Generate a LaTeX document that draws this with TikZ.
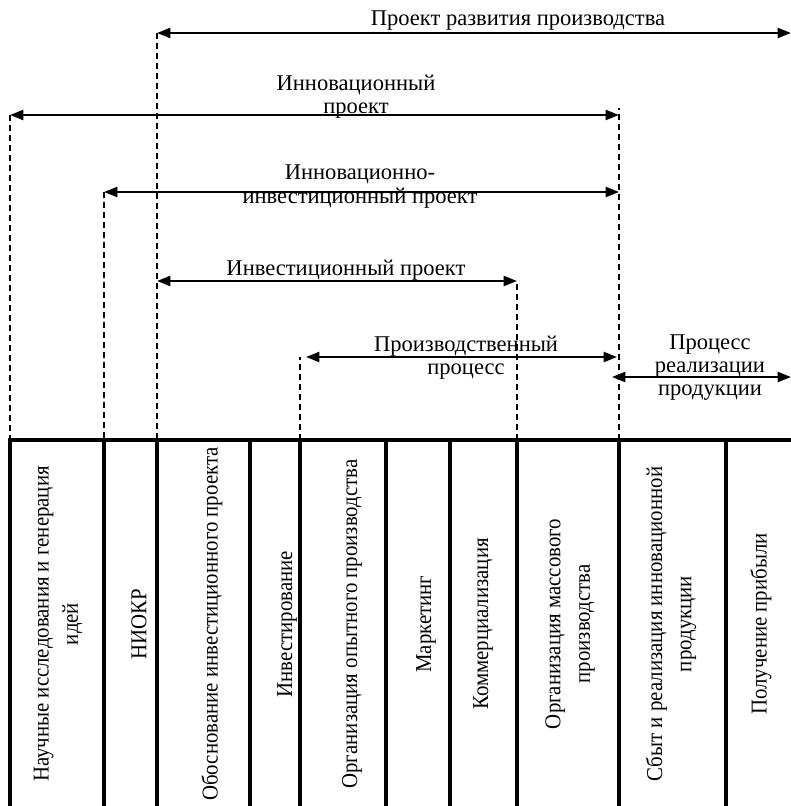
\documentclass[tikz,border=0pt]{standalone}
\usepackage{fontspec}
\setmainfont{Liberation Serif}
\newfontfamily\stagefont[FakeStretch=0.92]{Liberation Serif}
\usetikzlibrary{arrows.meta, positioning}

\begin{document}
\begin{tikzpicture}[
    x=0.75pt, y=-0.75pt,
    span/.style={
        {Triangle[length=10pt,width=7.5pt]}-{Triangle[length=10pt,width=7.5pt]},
        line width=1.5pt
    },
    guide/.style={line width=1.1pt, dash pattern=on 4.5pt off 3pt},
    rule/.style={line width=3pt, line cap=rect},
    caption/.style={font=\fontsize{16.9}{17.25}\selectfont, align=center, inner sep=0pt},
    stage/.style={font=\stagefont\fontsize{17}{22}\selectfont, align=center, rotate=90, inner sep=0pt}
]
\useasboundingbox (0,0) rectangle (791,806);

% Column boundaries of the stage table
\foreach \x [count=\i] in {10,104,157,250,300,386,450,517,619,726,791}
    \coordinate (b\i) at (\x,440);

% Table rules
\draw[rule] (b1) -- (b11);
\foreach \i in {1,...,10}
    \draw[rule] (b\i) -- ++(0,366);

% Stages
\node[stage] (st1) at (58,624) {Научные исследования и генерация\\идей};
\node[stage] (st2) at (139,624) {НИОКР};
\node[stage] (st3) at (212,624) {Обоснование инвестиционного проекта};
\node[stage] (st4) at (287,624) {Инвестирование};
\node[stage] (st5) at (352,624) {Организация опытного производства};
\node[stage] (st6) at (426,624) {Маркетинг};
\node[stage] (st7) at (483,624) {Коммерциализация};
\node[stage] (st8) at (570,624) {Организация массового\\производства};
\node[stage] (st9) at (671,624) {Сбыт и реализация инновационной\\продукции};
\node[stage] (st10) at (761,624) {Получение прибыли};

% Arrow ends
\coordinate (dev-l) at (157,33);
\coordinate (dev-r) at (791,33);
\coordinate (inn-l) at (10,115);
\coordinate (inn-r) at (619,115);
\coordinate (ii-l) at (104,192);
\coordinate (ii-r) at (619,192);
\coordinate (inv-l) at (157,281);
\coordinate (inv-r) at (517,281);
\coordinate (prod-l) at (306,357);
\coordinate (prod-r) at (617,357);
\coordinate (sale-l) at (612,377);
\coordinate (sale-r) at (791,377);

% Project spans
\draw[span] (dev-l) -- (dev-r);
\draw[span] (inn-l) -- (inn-r);
\draw[span] (ii-l) -- (ii-r);
\draw[span] (inv-l) -- (inv-r);
\draw[span] (prod-l) -- (prod-r);
\draw[span] (sale-l) -- (sale-r);

% Dashed guides down to the table
\draw[guide] (dev-l) -- (b3);
\draw[guide] (inn-l) -- (b1);
\draw[guide] (ii-l) -- (b2);
\draw[guide] (b5) -- (b5 |- prod-l);
\draw[guide] (b8) -- (b8 |- inv-r);
\draw[guide] (b9) -- ([yshift=5pt]b9 |- inn-r);

% Span labels (base = last line)
\node[caption, anchor=base] (dev-lbl) at (518,26) {Проект развития производства};
\node[caption, anchor=base] (inn-lbl) at (356,114) {Инновационный\\проект};
\node[caption, anchor=base] (ii-lbl) at (360,203) {Инновационно-\\инвестиционный проект};
\node[caption, anchor=base] (inv-lbl) at (346,275) {Инвестиционный проект};
\node[caption, anchor=base] (prod-lbl) at (466,374) {Производственный\\процесс};
\node[caption, anchor=base] (sale-lbl) at (710,395) {Процесс\\реализации\\продукции};

\end{tikzpicture}
\end{document}
